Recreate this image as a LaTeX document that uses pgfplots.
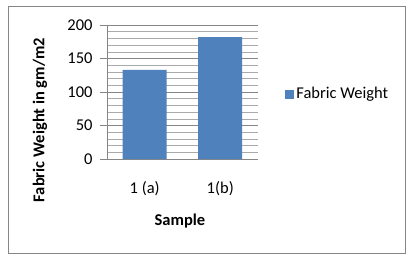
\documentclass[border=0pt]{standalone}
\usepackage{fontspec}
\setmainfont{Carlito}
\usepackage{pgfplots}
\pgfplotsset{compat=1.18}
\definecolor{barblue}{RGB}{79,129,189}
\definecolor{gridgray}{RGB}{134,134,134}
\definecolor{framegray}{RGB}{134,134,134}
\begin{document}
\begin{tikzpicture}[x=1bp,y=1bp]
\path (-107,-102) rectangle (306,159);
\draw[framegray,line width=0.8bp] (-99,153) rectangle (298,-94);
\begin{axis}[
  at={(0,0)}, anchor=south west,
  scale only axis, width=151bp, height=134bp,
  font=\fontsize{16.5bp}{19bp}\selectfont,
  /pgf/number format/assume math mode=true,
  ybar, bar width=44bp,
  xmin=-0.5, xmax=1.5, ymin=0, ymax=200,
  xtick={0,1}, xticklabels={1 (a),1(b)},
  ytick={0,50,100,150,200},
  minor y tick num=4,
  ymajorgrids, yminorgrids,
  major grid style={gridgray,line width=0.6bp},
  minor grid style={gridgray!70,line width=0.6bp},
  axis x line*=bottom, axis y line*=left,
  axis line style={gridgray,line width=0.8bp},
  x axis line style={-},
  y axis line style={-},
  major x tick style={draw=none},
  minor y tick style={draw=none},
  major y tick style={gridgray,line width=0.6bp},
  tick align=outside, major tick length=7bp,
  yticklabel style={xshift=-4bp},
  xticklabel style={yshift=-12bp},
  ylabel={\bfseries Fabric Weight in gm/m2},
  ylabel style={at={(axis description cs:-0.444,0.29)},anchor=center,rotate=0},
  xlabel={\bfseries Sample},
  xlabel style={at={(axis description cs:0.483,-0.463)},anchor=center},
  legend style={at={(axis description cs:1.18,0.485)},anchor=west,draw=none,fill=none,
    font=\fontsize{16.5bp}{19bp}\selectfont, inner sep=0pt},
  legend image code/.code={\fill[barblue] (0cm,-4.5bp) rectangle (9bp,4.5bp);},
]
\addplot[fill=barblue,draw=none] coordinates {(0,133) (1,182)};
\addlegendentry{Fabric Weight}
\end{axis}
\end{tikzpicture}
\end{document}
